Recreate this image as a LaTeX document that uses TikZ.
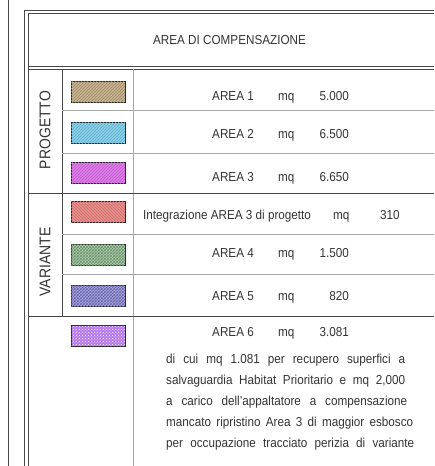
\documentclass[tikz,border=0pt]{standalone}
\usepackage{fontspec}
\setmainfont{Liberation Sans}[FakeStretch=0.9]
\usetikzlibrary{patterns,positioning}

\definecolor{areauno}{HTML}{C9B48E}
\definecolor{areadue}{HTML}{86D3EF}
\definecolor{areatre}{HTML}{E27AEE}
\definecolor{integra}{HTML}{EE8E8A}
\definecolor{areaquattro}{HTML}{8DBE8D}
\definecolor{areacinque}{HTML}{8A86DD}
\definecolor{areasei}{HTML}{B77BEA}

\begin{document}
\begin{tikzpicture}[x=1pt, y=-1pt,
    frame/.style={draw=black!72, line width=0.9pt},
    rowline/.style={draw=black!35, line width=0.8pt},
    swatch/.style={draw=black!85, line width=0.8pt, minimum width=54pt, minimum height=21pt, inner sep=0pt},
    label/.style={font=\fontsize{13}{15}\selectfont, text=black!80, inner sep=0pt, anchor=base west},
    side/.style={font=\fontsize{15.5}{17}\selectfont, text=black!80, inner sep=0pt, rotate=90}]
    \useasboundingbox (0,0) rectangle (434,466);

    % frame
    \draw[frame] (8,0) -- (8,466);
    \draw[frame] (434,10) -- (24,10) -- (24,466);
    \draw[frame] (434,13) -- (28,13) -- (28,466);
    \draw[frame] (28,66) -- (434,66);
    \draw[frame] (28,69) -- (434,69);
    \draw[frame] (62,69) -- (62,316);
    \draw[rowline] (133,69) -- (133,466);
    \draw[frame] (28,193) -- (434,193);
    \draw[frame] (28,316) -- (434,316);
    \draw[rowline] (62,110) -- (434,110);
    \draw[rowline] (62,153) -- (434,153);
    \draw[rowline] (62,234) -- (434,234);
    \draw[rowline] (62,274) -- (434,274);

    \node[label, anchor=base] (title) at (229.5,44.5) {AREA DI COMPENSAZIONE};
    \node[side] (prog) at (45,130) {PROGETTO};
    \node[side] (var) at (45,262) {VARIANTE};

    % swatches
    \node[swatch, fill=areauno, postaction={pattern=north east lines, pattern color=areauno!75!black}] (sw1) at (98,91.5) {};
    \node[swatch, fill=areadue, postaction={pattern=north east lines, pattern color=areadue!80!black}] (sw2) at (98,133) {};
    \node[swatch, fill=areatre, postaction={pattern=north east lines, pattern color=areatre!80!black}] (sw3) at (98,173) {};
    \node[swatch, fill=integra, postaction={pattern=north west lines, pattern color=integra!80!black}] (sw4) at (98,211.5) {};
    \node[swatch, fill=areaquattro!70!white, postaction={pattern=crosshatch, pattern color=areaquattro!75!black}] (sw5) at (98,254.5) {};
    \node[swatch, fill=areacinque!70!white, postaction={pattern=crosshatch, pattern color=areacinque!75!black}] (sw6) at (98,295.5) {};
    \node[swatch, fill=areasei, postaction={pattern=crosshatch dots, pattern color=white!85!areasei}] (sw7) at (98,336) {};

    % rows
    \foreach \k/\y/\v in {1/100/5.000, 2/138/6.500, 3/181/6.650, 4/257/1.500, 5/300/820, 6/336/3.081} {
        \node[label] (area\k) at (212,\y) {AREA \k};
        \node[label] (mq\k) at (278,\y) {mq};
        \node[label, anchor=base east] (val\k) at (349,\y) {\v};
    }
    \node[label] (integr) at (143,219) {Integrazione AREA 3 di progetto};
    \node[label] (mqint) at (333,219) {mq};
    \node[label] (valint) at (380,219) {310};

    % note area 6
    \node[label] (nota1) at (166,363) {\makebox[239pt][s]{di cui mq 1.081 per recupero superfici a}};
    \node[label] (nota2) at (166,384) {\makebox[239pt][s]{salvaguardia Habitat Prioritario e mq 2,000}};
    \node[label] (nota3) at (166,405) {\makebox[241pt][s]{a carico dell'appaltatore a compensazione}};
    \node[label] (nota4) at (166,426) {\makebox[247pt][s]{mancato ripristino Area 3 di maggior esbosco}};
    \node[label] (nota5) at (166,447) {\makebox[248pt][s]{per occupazione tracciato perizia di variante}};
\end{tikzpicture}
\end{document}
